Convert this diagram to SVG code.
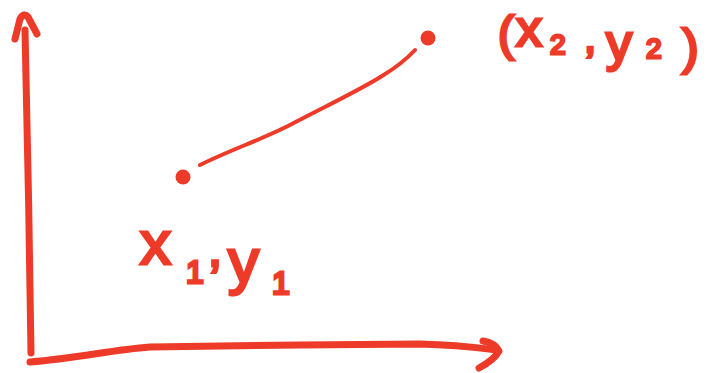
<svg xmlns="http://www.w3.org/2000/svg" width="709" height="373" viewBox="0 0 709 373">
<style>
.ink{fill:none;stroke:#EE3A28;stroke-linecap:round;stroke-linejoin:round}
.ax{stroke-width:7}
.ln{stroke-width:4}
.dot{fill:#EE3A28}
.lbl{fill:#EE3A28;stroke:#EE3A28;stroke-width:3;font-family:"Liberation Sans",Arial,sans-serif}
</style>
<rect width="709" height="373" fill="#ffffff"/>
<g id="axes">
<g id="y-axis">
<path class="ink ax" d="M31,353 C30,250 27,130 25,30"/>
<path class="ink ax" d="M15,39 L20,19 Q24,12 28,17 L37,34"/>
</g>
<g id="x-axis">
<path class="ink ax" d="M30,362 C80,358 110,350 150,347 L300,345 L420,344 C460,345 480,348 496,350"/>
<path class="ink ax" d="M483,341 Q495,343 499,351 Q494,360 479,368"/>
</g>
</g>
<g id="connectors">
<path class="ink ln" d="M200,165 C230,150 258,141 288,126 C330,104 360,90 382,76 Q402,64 415,50"/>
</g>
<g id="point1">
<circle class="dot" cx="183" cy="177" r="7.5"/>
<text class="lbl" font-size="62"><tspan x="140" y="264">x</tspan><tspan x="186" y="283" font-size="32">1</tspan><tspan x="208" y="266" font-size="50">,</tspan><tspan x="228" y="282">y</tspan><tspan x="272" y="294" font-size="32">1</tspan></text>
</g>
<g id="point2">
<circle class="dot" cx="428" cy="38" r="7.5"/>
<text class="lbl" font-size="48"><tspan x="498" y="50">(</tspan><tspan x="516" y="46" font-size="52">x</tspan><tspan x="550" y="54" font-size="28">2</tspan><tspan x="584" y="52" font-size="44">,</tspan><tspan x="606" y="60" font-size="52">y</tspan><tspan x="646" y="58" font-size="28">2</tspan><tspan x="682" y="64" font-size="50">)</tspan></text>
</g>
</svg>
